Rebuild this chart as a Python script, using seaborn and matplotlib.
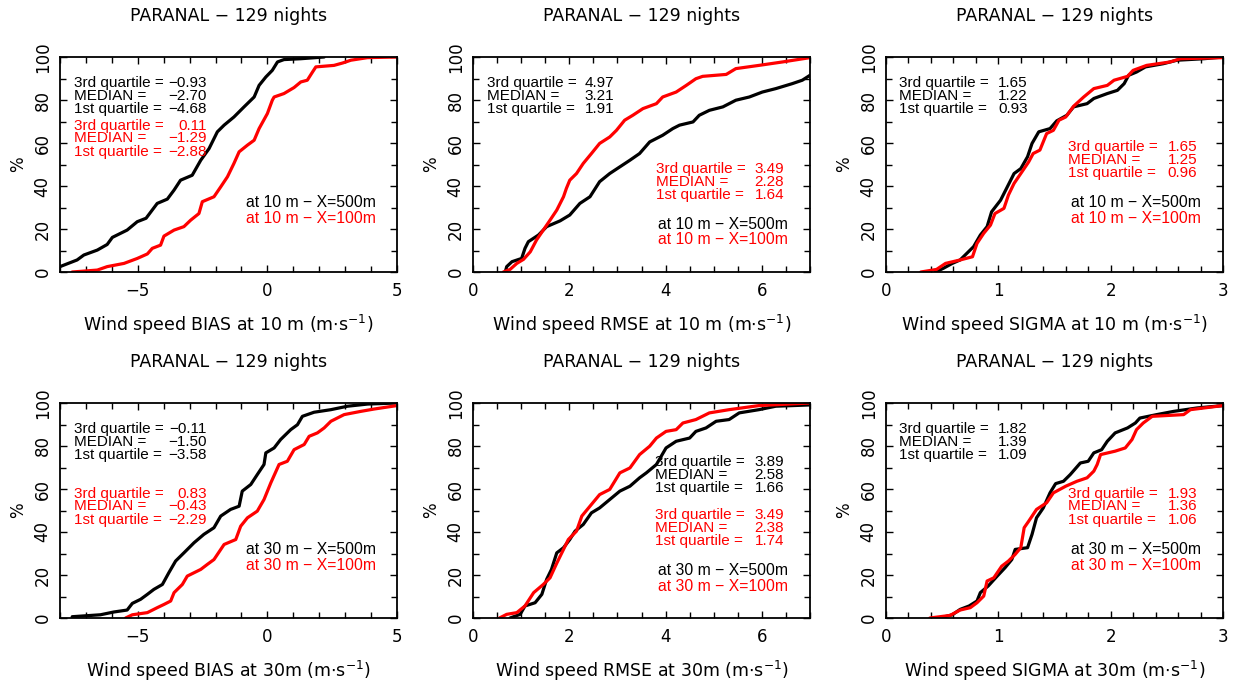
import numpy as np
import pandas as pd
import matplotlib
matplotlib.use("Agg")
import matplotlib.pyplot as plt
import seaborn as sns
from matplotlib.ticker import MultipleLocator

# ---------------- data (cumulative distributions) ----------------
series_names = ["X=500m", "X=100m"]
title_text = "PARANAL \u2212 129 nights"

# Panel 1: BIAS at 10 m
bias10_500_x = [-8.0, -7.34, -7.08, -6.56, -6.18, -5.98, -5.41, -5.02, -4.68, -4.25, -3.86, -3.60, -3.35, -2.90,
                -2.57, -2.25, -1.93, -1.67, -1.29, -0.90, -0.51, -0.32, -0.06, 0.19, 0.39, 0.64, 1.29, 2.19]
bias10_500_p = [2.5, 5.6, 7.9, 10.2, 12.8, 16.1, 19.5, 23.4, 25.0, 31.9, 33.9, 38.1, 42.7, 45.0,
                52.0, 57.4, 65.2, 68.3, 72.1, 76.8, 81.4, 86.8, 90.7, 93.8, 97.7, 98.8, 99.2, 100.0]
bias10_100_x = [-7.53, -6.56, -6.18, -5.53, -5.02, -4.63, -4.44, -4.12, -3.99, -3.60, -3.22, -2.96, -2.64, -2.51,
                -2.06, -1.80, -1.54, -1.29, -1.09, -0.77, -0.51, -0.32, 0.0, 0.19, 0.26, 0.64, 1.03, 1.29,
                1.54, 1.74, 1.87, 2.57, 2.90, 3.22, 3.86, 5.0]
bias10_100_p = [0.0, 0.9, 2.5, 4.0, 6.3, 8.4, 11.0, 12.5, 16.7, 19.5, 21.1, 24.1, 27.2, 32.7,
                35.0, 39.6, 44.3, 50.5, 55.9, 59.0, 61.3, 66.7, 73.7, 79.9, 81.4, 83.0, 85.8, 88.4,
                89.2, 93.0, 95.4, 96.1, 97.2, 98.5, 99.7, 100.0]

# Panel 2: RMSE at 10 m
rmse10_500_x = [0.67, 0.70, 0.81, 1.01, 1.08, 1.15, 1.36, 1.53, 1.81, 2.01, 2.22, 2.43, 2.63, 2.84, 3.05, 3.26,
                3.46, 3.67, 3.94, 4.15, 4.29, 4.57, 4.70, 4.91, 5.19, 5.46, 5.74, 6.01, 6.29, 6.63, 6.84, 7.0]
rmse10_500_p = [0.0, 2.5, 4.8, 6.3, 11.0, 14.1, 17.2, 21.1, 23.8, 26.5, 31.9, 35.0, 42.0, 45.8, 48.9, 52.0,
                55.1, 60.5, 63.6, 66.7, 68.3, 69.8, 72.9, 75.2, 76.8, 79.9, 81.4, 83.7, 85.3, 87.6, 89.2, 91.5]
rmse10_100_x = [0.63, 0.77, 0.91, 1.05, 1.19, 1.32, 1.46, 1.60, 1.74, 1.88, 1.94, 2.01, 2.15, 2.29, 2.46, 2.63,
                2.84, 2.98, 3.15, 3.32, 3.53, 3.81, 3.94, 4.22, 4.43, 4.63, 4.77, 5.26, 5.46, 5.94, 6.43, 7.0]
rmse10_100_p = [0.0, 1.2, 4.0, 5.9, 9.4, 14.9, 19.5, 24.1, 28.8, 35.0, 38.9, 42.7, 45.8, 50.5, 55.1, 59.8,
                62.8, 65.9, 70.6, 72.9, 76.0, 78.3, 81.4, 83.7, 86.8, 89.9, 91.0, 91.9, 94.6, 96.1, 97.7, 99.7]

# Panel 3: SIGMA at 10 m
sigma10_500_x = [0.44, 0.51, 0.59, 0.66, 0.72, 0.78, 0.84, 0.90, 0.94, 1.02, 1.08, 1.14, 1.20, 1.26, 1.30, 1.36,
                 1.46, 1.52, 1.61, 1.67, 1.79, 1.85, 1.97, 2.06, 2.12, 2.16, 2.23, 2.31, 2.47, 2.59, 2.83, 3.0]
sigma10_500_p = [0.0, 1.7, 4.0, 5.6, 8.7, 11.8, 17.2, 21.1, 28.0, 33.4, 39.6, 45.8, 48.1, 53.6, 59.8, 65.2,
                 66.7, 70.3, 72.9, 76.8, 78.3, 80.7, 83.0, 84.5, 87.6, 91.5, 93.0, 95.4, 96.9, 98.5, 99.2, 100.0]
sigma10_100_x = [0.31, 0.45, 0.53, 0.66, 0.77, 0.81, 0.87, 0.93, 0.97, 1.05, 1.09, 1.14, 1.20, 1.27, 1.31, 1.37,
                 1.43, 1.49, 1.54, 1.60, 1.67, 1.76, 1.85, 1.97, 2.03, 2.15, 2.20, 2.32, 2.53, 2.62, 3.0]
sigma10_100_p = [0.0, 1.2, 4.0, 5.6, 7.1, 13.3, 18.0, 21.8, 27.2, 29.6, 35.8, 41.2, 45.8, 51.2, 55.1, 56.7,
                 64.4, 65.9, 70.6, 72.1, 77.1, 81.4, 85.3, 86.8, 89.2, 91.0, 93.8, 96.1, 97.7, 99.2, 99.7]

# Panel 4: BIAS at 30 m
bias30_500_x = [-7.53, -6.44, -5.92, -5.41, -5.21, -4.89, -4.63, -4.38, -4.05, -3.80, -3.54, -3.22, -2.83, -2.45,
                -2.06, -1.80, -1.42, -1.09, -0.97, -0.64, -0.39, -0.13, -0.06, 0.26, 0.51, 0.90, 1.16, 1.35,
                1.80, 2.45, 3.09, 3.86, 5.0]
bias30_500_p = [0.6, 1.5, 2.8, 3.7, 6.8, 8.7, 11.0, 13.3, 15.6, 21.1, 26.5, 30.3, 35.0, 38.9,
                42.0, 47.4, 50.5, 52.0, 59.0, 62.1, 66.7, 71.4, 76.8, 79.1, 83.0, 87.6, 89.9, 93.8,
                95.7, 96.9, 98.5, 99.5, 100.0]
bias30_100_x = [-5.47, -5.21, -4.63, -4.25, -3.99, -3.73, -3.60, -3.28, -3.09, -2.57, -2.32, -2.06, -1.67, -1.22,
                -1.03, -0.77, -0.39, -0.13, 0.13, 0.45, 0.77, 1.03, 1.42, 1.61, 1.93, 2.19, 2.45, 2.96,
                3.60, 4.12, 5.0]
bias30_100_p = [0.0, 1.5, 2.5, 4.8, 6.3, 7.9, 11.8, 15.6, 19.5, 22.6, 24.9, 27.2, 34.2, 36.5,
                42.7, 46.6, 49.7, 55.1, 62.8, 71.4, 72.9, 78.3, 80.7, 84.5, 86.1, 88.4, 91.5, 94.6,
                96.1, 97.2, 98.8]

# Panel 5: RMSE at 30 m
rmse30_500_x = [0.77, 0.98, 1.08, 1.29, 1.43, 1.53, 1.63, 1.74, 1.88, 2.01, 2.12, 2.29, 2.46, 2.63, 2.84, 3.05,
                3.26, 3.46, 3.60, 3.81, 4.01, 4.22, 4.50, 4.63, 4.84, 5.05, 5.32, 5.53, 5.94, 6.29, 7.0]
rmse30_500_p = [0.0, 1.7, 5.6, 7.1, 11.0, 18.0, 22.6, 30.3, 32.7, 36.5, 40.4, 43.5, 48.9, 51.2, 55.1, 59.0,
                61.3, 65.2, 67.5, 71.4, 79.1, 82.2, 83.7, 86.8, 88.4, 91.5, 92.3, 95.4, 96.9, 98.5, 99.1]
rmse30_100_x = [0.55, 0.70, 0.91, 1.08, 1.26, 1.46, 1.60, 1.74, 1.88, 1.98, 2.15, 2.26, 2.43, 2.63, 2.84, 3.05,
                3.26, 3.46, 3.67, 3.81, 4.01, 4.22, 4.36, 4.63, 4.91, 5.32, 5.94, 7.0]
rmse30_100_p = [0.0, 1.7, 2.5, 5.6, 11.8, 15.6, 18.7, 25.5, 31.9, 36.5, 40.4, 47.4, 52.0, 57.4, 59.8, 67.5,
                69.8, 76.0, 79.9, 83.7, 86.8, 87.6, 90.7, 92.3, 95.4, 96.9, 98.8, 100.0]

# Panel 6: SIGMA at 30 m
sigma30_500_x = [0.48, 0.59, 0.66, 0.74, 0.81, 0.84, 0.91, 0.99, 1.06, 1.12, 1.15, 1.26, 1.30, 1.34, 1.40, 1.46,
                 1.51, 1.58, 1.64, 1.73, 1.80, 1.85, 1.92, 1.97, 2.04, 2.15, 2.22, 2.26, 2.41, 2.56, 2.77, 3.0]
sigma30_500_p = [0.0, 1.5, 4.0, 5.6, 7.9, 11.8, 14.9, 19.5, 23.4, 27.2, 31.9, 32.7, 38.9, 46.6, 51.2, 58.2,
                 62.5, 63.6, 66.7, 72.1, 72.9, 76.8, 78.3, 82.2, 86.1, 88.4, 90.7, 93.0, 94.6, 96.1, 97.7, 98.8]
sigma30_100_x = [0.39, 0.57, 0.66, 0.75, 0.81, 0.87, 0.90, 0.96, 1.03, 1.09, 1.15, 1.20, 1.23, 1.27, 1.34, 1.43,
                 1.49, 1.60, 1.70, 1.79, 1.85, 1.88, 1.91, 2.04, 2.13, 2.19, 2.23, 2.29, 2.37, 2.65, 2.71, 3.0]
sigma30_100_p = [0.0, 1.2, 3.7, 4.8, 7.1, 10.2, 17.2, 18.7, 24.1, 26.5, 29.6, 32.7, 42.0, 45.0, 50.5, 53.6,
                 58.2, 61.3, 63.6, 65.2, 68.3, 71.4, 76.0, 77.6, 79.1, 83.0, 87.6, 90.7, 93.8, 94.6, 96.9, 98.8]

# quartile statistics shown in each panel: [3rd quartile, median, 1st quartile]
stats_bias10_500 = ["\u22120.93", "\u22122.70", "\u22124.68"]
stats_bias10_100 = ["0.11", "\u22121.29", "\u22122.88"]
stats_rmse10_500 = ["4.97", "3.21", "1.91"]
stats_rmse10_100 = ["3.49", "2.28", "1.64"]
stats_sigma10_500 = ["1.65", "1.22", "0.93"]
stats_sigma10_100 = ["1.65", "1.25", "0.96"]
stats_bias30_500 = ["\u22120.11", "\u22121.50", "\u22123.58"]
stats_bias30_100 = ["0.83", "\u22120.43", "\u22122.29"]
stats_rmse30_500 = ["3.89", "2.58", "1.66"]
stats_rmse30_100 = ["3.49", "2.38", "1.74"]
stats_sigma30_500 = ["1.82", "1.39", "1.09"]
stats_sigma30_100 = ["1.93", "1.36", "1.06"]
stat_labels = ["3rd quartile =", "MEDIAN =", "1st quartile ="]

xlabels = [
    "Wind speed BIAS at 10 m (m$\\cdot$s$^{-1}$)",
    "Wind speed RMSE at 10 m (m$\\cdot$s$^{-1}$)",
    "Wind speed SIGMA at 10 m (m$\\cdot$s$^{-1}$)",
    "Wind speed BIAS at 30m (m$\\cdot$s$^{-1}$)",
    "Wind speed RMSE at 30m (m$\\cdot$s$^{-1}$)",
    "Wind speed SIGMA at 30m (m$\\cdot$s$^{-1}$)",
]
legend_500 = ["at 10 m \u2212 X=500m", "at 30 m \u2212 X=500m"]
legend_100 = ["at 10 m \u2212 X=100m", "at 30 m \u2212 X=100m"]

# ---------------- style ----------------
sns.set_theme(style="ticks")
plt.rcParams["font.family"] = ["DejaVu Sans"]
plt.rcParams["mathtext.fontset"] = "dejavusans"
plt.rcParams["axes.unicode_minus"] = True
plt.rcParams["text.color"] = "black"
plt.rcParams["axes.labelcolor"] = "black"
plt.rcParams["xtick.color"] = "black"
plt.rcParams["ytick.color"] = "black"
plt.rcParams["axes.edgecolor"] = "black"

W, H = 1234, 686
fig = plt.figure(figsize=(W / 100, H / 100), dpi=100)

panels = [
    dict(xlim=(-8, 5), maj=5, mnr=1, curves=(bias10_500_x, bias10_500_p, bias10_100_x, bias10_100_p),
         s5=stats_bias10_500, s1=stats_bias10_100,
         bpos=(0.042, 0.436, [0.879, 0.819, 0.758]), rpos=(0.042, 0.436, [0.679, 0.621, 0.558]),
         lpos=(0.552, [0.321, 0.251]), row=0, col=0),
    dict(xlim=(0, 7), maj=2, mnr=0.5, curves=(rmse10_500_x, rmse10_500_p, rmse10_100_x, rmse10_100_p),
         s5=stats_rmse10_500, s1=stats_rmse10_100,
         bpos=(0.041, 0.42, [0.879, 0.819, 0.758]), rpos=(0.544, 0.923, [0.479, 0.419, 0.358]),
         lpos=(0.550, [0.219, 0.149]), row=0, col=1),
    dict(xlim=(0, 3), maj=1, mnr=0.2, curves=(sigma10_500_x, sigma10_500_p, sigma10_100_x, sigma10_100_p),
         s5=stats_sigma10_500, s1=stats_sigma10_100,
         bpos=(0.039, 0.421, [0.879, 0.819, 0.758]), rpos=(0.540, 0.923, [0.581, 0.521, 0.460]),
         lpos=(0.549, [0.321, 0.251]), row=0, col=2),
    dict(xlim=(-8, 5), maj=5, mnr=1, curves=(bias30_500_x, bias30_500_p, bias30_100_x, bias30_100_p),
         s5=stats_bias30_500, s1=stats_bias30_100,
         bpos=(0.042, 0.436, [0.880, 0.819, 0.759]), rpos=(0.042, 0.436, [0.579, 0.519, 0.458]),
         lpos=(0.552, [0.319, 0.245]), row=1, col=0),
    dict(xlim=(0, 7), maj=2, mnr=0.5, curves=(rmse30_500_x, rmse30_500_p, rmse30_100_x, rmse30_100_p),
         s5=stats_rmse30_500, s1=stats_rmse30_100,
         bpos=(0.541, 0.923, [0.727, 0.667, 0.606]), rpos=(0.541, 0.923, [0.477, 0.417, 0.356]),
         lpos=(0.550, [0.222, 0.148]), row=1, col=1),
    dict(xlim=(0, 3), maj=1, mnr=0.2, curves=(sigma30_500_x, sigma30_500_p, sigma30_100_x, sigma30_100_p),
         s5=stats_sigma30_500, s1=stats_sigma30_100,
         bpos=(0.039, 0.421, [0.880, 0.819, 0.759]), rpos=(0.540, 0.923, [0.579, 0.519, 0.458]),
         lpos=(0.549, [0.319, 0.245]), row=1, col=2),
]

lefts = [60, 473, 886]
tops = [57, 403]
aw, ah = 337, 215

palette = {series_names[0]: "black", series_names[1]: "#ff0000"}
stat_fs = 11
leg_fs = 11.3
stat_font = ["Liberation Sans", "DejaVu Sans"]

for i, p in enumerate(panels):
    l = lefts[p["col"]]
    t = tops[p["row"]]
    ax = fig.add_axes([l / W, 1 - (t + ah) / H, aw / W, ah / H])
    x5, p5, x1, p1 = p["curves"]
    df = pd.DataFrame({
        "x": list(x5) + list(x1),
        "pct": list(p5) + list(p1),
        "series": [series_names[0]] * len(x5) + [series_names[1]] * len(x1),
    })
    sns.lineplot(data=df, x="x", y="pct", hue="series", palette=palette, sort=False,
                 estimator=None, linewidth=2.3, legend=False, ax=ax)
    ax.set_xlim(*p["xlim"])
    ax.set_ylim(0, 100)
    ax.xaxis.set_major_locator(MultipleLocator(p["maj"]))
    ax.xaxis.set_minor_locator(MultipleLocator(p["mnr"]))
    ax.yaxis.set_major_locator(MultipleLocator(20))
    ax.yaxis.set_minor_locator(MultipleLocator(10))
    ax.tick_params(which="both", direction="in", top=True, right=True, width=1.0, colors="black")
    ax.tick_params(which="major", length=5)
    ax.tick_params(which="minor", length=4)
    ax.tick_params(axis="x", which="major", pad=7, labelsize=12)
    ax.tick_params(axis="y", which="major", pad=6, labelsize=12, labelrotation=90)
    for lab in ax.get_yticklabels():
        lab.set_va("center")
    for s in ax.spines.values():
        s.set_linewidth(1.3)
        s.set_color("black")
    ax.set_xlabel(xlabels[i], fontsize=12.5, color="black")
    ax.xaxis.set_label_coords(0.5, -0.19)
    ax.set_ylabel("%", fontsize=12, rotation=90, color="black")
    ax.yaxis.set_label_coords(-0.098, 0.5)
    ax.text(0.5, 1.19, title_text, transform=ax.transAxes, ha="center", va="center",
            fontsize=12.5, color="black")

    # statistics
    bx0, bx1, bys = p["bpos"]
    for lab, val, yy in zip(stat_labels, p["s5"], bys):
        ax.text(bx0, yy, lab, transform=ax.transAxes, ha="left", va="center", fontsize=stat_fs,
                color="black", family=stat_font)
        ax.text(bx1, yy, val, transform=ax.transAxes, ha="right", va="center", fontsize=stat_fs,
                color="black", family=stat_font)
    rx0, rx1, rys = p["rpos"]
    for lab, val, yy in zip(stat_labels, p["s1"], rys):
        ax.text(rx0, yy, lab, transform=ax.transAxes, ha="left", va="center", fontsize=stat_fs,
                color="#ff0000", family=stat_font)
        ax.text(rx1, yy, val, transform=ax.transAxes, ha="right", va="center", fontsize=stat_fs,
                color="#ff0000", family=stat_font)
    lx, lys = p["lpos"]
    ax.text(lx, lys[0], legend_500[p["row"]], transform=ax.transAxes, ha="left", va="center",
            fontsize=leg_fs, color="black", family=stat_font)
    ax.text(lx, lys[1], legend_100[p["row"]], transform=ax.transAxes, ha="left", va="center",
            fontsize=leg_fs, color="#ff0000", family=stat_font)

fig.savefig("out.png", dpi=100)
